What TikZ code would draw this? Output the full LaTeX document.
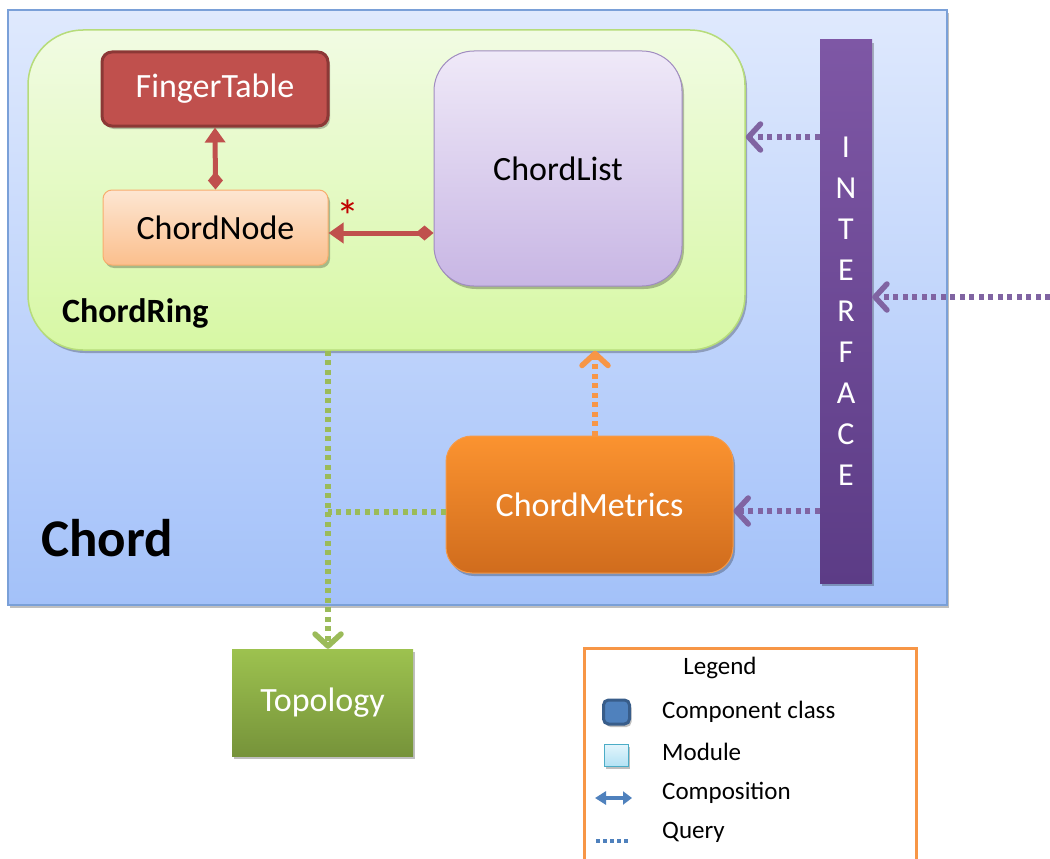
\documentclass[tikz,border=0pt]{standalone}
\usepackage{fontspec}
\setmainfont{Carlito}
\usetikzlibrary{arrows.meta,shadows}

\definecolor{chordtop}{HTML}{DFE9FD}
\definecolor{chordbot}{HTML}{A3C1F9}
\definecolor{chordline}{HTML}{7AA0D8}
\definecolor{ringtop}{HTML}{F1FBE3}
\definecolor{ringbot}{HTML}{D7F8A4}
\definecolor{ringline}{HTML}{B6DC7A}
\definecolor{fingerfill}{HTML}{C0504D}
\definecolor{fingerline}{HTML}{8C3836}
\definecolor{nodetop}{HTML}{FDE6D2}
\definecolor{nodebot}{HTML}{FBBF8D}
\definecolor{nodeline}{HTML}{F8AD6D}
\definecolor{listtop}{HTML}{EFE9F8}
\definecolor{listbot}{HTML}{C8B6E4}
\definecolor{listline}{HTML}{A08CC0}
\definecolor{ifacetop}{HTML}{7E57A5}
\definecolor{ifacebot}{HTML}{5C3C86}
\definecolor{mettop}{HTML}{FB9330}
\definecolor{metbot}{HTML}{D06C1D}
\definecolor{metline}{HTML}{F59A49}
\definecolor{topotop}{HTML}{9DC24F}
\definecolor{topobot}{HTML}{76933A}
\definecolor{querypurple}{HTML}{8064A2}
\definecolor{queryorange}{HTML}{F79646}
\definecolor{querygreen}{HTML}{9BBB59}
\definecolor{compred}{HTML}{C0504D}
\definecolor{starred}{HTML}{C00000}
\definecolor{legblue}{HTML}{4F81BD}
\definecolor{legblueline}{HTML}{385D8A}
\definecolor{modtop}{HTML}{E3F5FC}
\definecolor{modbot}{HTML}{B4E2F4}
\definecolor{modline}{HTML}{4BACC6}

\begin{document}
\begin{tikzpicture}[x=1pt,y=-1pt,
  box/.style={inner sep=0pt, align=center},
  softshadow/.style={drop shadow={shadow xshift=2pt,shadow yshift=-3pt,opacity=0.25,fill=black}},
  bigtext/.style={font=\fontsize{34}{40}\selectfont},
  legtext/.style={font=\fontsize{25}{30}\selectfont, anchor=west, inner sep=0pt},
  composition/.style={draw=compred, line width=5pt,
    {Triangle[length=15pt,width=20pt]}-{Diamond[length=18pt,width=15pt]}},
  query/.style={line width=5.5pt, dash pattern=on 5pt off 4.5pt,
    -{Straight Barb[length=12pt,width=26pt,round]}},
  plainquery/.style={line width=5.5pt, dash pattern=on 5pt off 4.5pt}
]
\clip (0,0) rectangle (1050,859);
\useasboundingbox (0,0) rectangle (1050,859);

% outer Chord module
\node[box, softshadow, minimum width=939pt, minimum height=595pt,
  top color=chordtop, bottom color=chordbot, draw=chordline, line width=1.5pt]
  (chord) at (477.5,307.5) {};
\node[anchor=west, inner sep=0pt, font=\fontsize{53}{60}\selectfont\bfseries]
  (chordlabel) at (41,538) {Chord};

% ChordRing container
\node[box, softshadow, minimum width=717pt, minimum height=320pt, rounded corners=55pt,
  top color=ringtop, bottom color=ringbot, draw=ringline, line width=1.5pt]
  (ring) at (386.5,190) {};
\node[anchor=west, inner sep=0pt, font=\fontsize{34}{40}\selectfont\bfseries]
  (ringlabel) at (62,313) {ChordRing};

% classes inside the ring
\node[box, softshadow, bigtext, text=white, minimum width=226pt, minimum height=74pt,
  rounded corners=10pt, fill=fingerfill, draw=fingerline, line width=3pt]
  (finger) at (215,89) {FingerTable};
\node[box, softshadow, bigtext, minimum width=225pt, minimum height=75pt,
  rounded corners=9pt, top color=nodetop, bottom color=nodebot, draw=nodeline, line width=1pt]
  (cnode) at (215.5,227.5) {ChordNode};
\node[box, softshadow, bigtext, minimum width=248pt, minimum height=235pt,
  rounded corners=40pt, top color=listtop, bottom color=listbot, draw=listline, line width=1pt]
  (clist) at (558,168.5) {ChordList};

% interface bar
\node[box, softshadow, text=white, minimum width=52pt, minimum height=543pt,
  top color=ifacetop, bottom color=ifacebot, font=\fontsize{32}{41}\selectfont]
  (iface) at (846,311.5) {I\\N\\T\\E\\R\\F\\A\\C\\E};

% metrics component
\node[box, softshadow, bigtext, text=white, minimum width=287pt, minimum height=137pt,
  rounded corners=26pt, top color=mettop, bottom color=metbot, draw=metline, line width=1pt]
  (metrics) at (589.5,504.5) {ChordMetrics};

% external topology module
\node[box, softshadow, bigtext, text=white, minimum width=181pt, minimum height=107pt,
  top color=topotop, bottom color=topobot]
  (topo) at (322.5,702.5) {Topology};

% composition links
\draw[composition] (finger.south) -- (cnode.north);
\draw[composition] ([yshift=-5.5pt]cnode.east) -- ([yshift=-5.5pt]cnode.east -| clist.west);
\node[text=starred, font=\fontsize{46}{50}\selectfont, inner sep=0pt] (star) at (348,216) {*};

% query links
\coordinate (qring) at (820,137);
\coordinate (qext) at (1050,297);
\coordinate (qmet) at (820,511);
\coordinate (qup) at (595,436);
\coordinate (qgreen) at (328,512);

\draw[query, draw=querypurple] (iface.west |- qring) -- (ring.east |- qring);
\draw[query, draw=querypurple] (qext) -- (iface.east |- qext);
\draw[query, draw=querypurple] (iface.west |- qmet) -- (metrics.east |- qmet);
\draw[query, draw=queryorange] (metrics.north -| qup) -- (ring.south -| qup);
\draw[query, draw=querygreen] (ring.south -| qgreen) -- (topo.north -| qgreen);
\draw[plainquery, draw=querygreen] (metrics.west |- qgreen) -- (qgreen);

% legend
\node[box, minimum width=332pt, minimum height=230pt, fill=white,
  draw=queryorange, line width=3pt, anchor=north west]
  (legend) at (583,647) {};
\node[font=\fontsize{25}{30}\selectfont, inner sep=0pt] (legtitle) at (720,668) {Legend};

\node[box, softshadow, minimum width=26pt, minimum height=24pt, rounded corners=5pt,
  fill=legblue, draw=legblueline, line width=3pt] (legcomp) at (616.5,712) {};
\node[legtext] (legcomptext) at (662,712) {Component class};

\node[box, softshadow, minimum width=24pt, minimum height=22pt,
  top color=modtop, bottom color=modbot, draw=modline, line width=1pt] (legmod) at (616,755) {};
\node[legtext] (legmodtext) at (662,752) {Module};

\coordinate (legcompa) at (595,798);
\coordinate (legcompb) at (632,798);
\draw[draw=legblue, line width=4pt,
  {Triangle[length=11pt,width=13pt]}-{Triangle[length=9pt,width=13pt]}] (legcompa) -- (legcompb);
\node[legtext] (legcomptxt) at (662,793) {Composition};

\coordinate (legqa) at (596,841);
\coordinate (legqb) at (630,841);
\draw[draw=legblue, line width=4pt, dash pattern=on 4pt off 3pt] (legqa) -- (legqb);
\node[legtext] (legqtext) at (662,832) {Query};
\end{tikzpicture}
\end{document}
